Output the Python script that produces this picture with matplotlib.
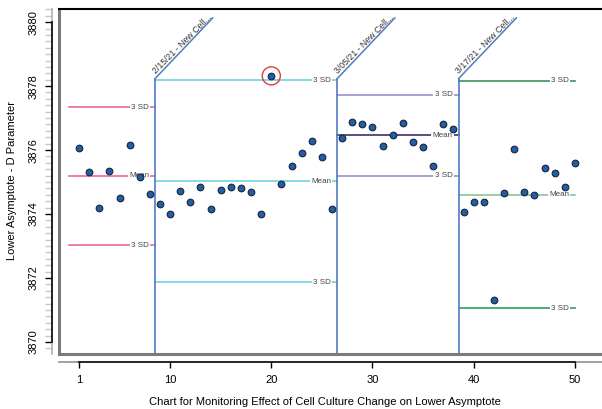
import matplotlib
matplotlib.use("Agg")
import matplotlib.pyplot as plt
import matplotlib.transforms as mtransforms
import numpy as np

plt.rcParams['font.family'] = ['Liberation Sans', 'DejaVu Sans']

# ---------------- data ----------------
obs = list(range(1, 51))
values = [3876.07, 3875.33, 3874.20, 3875.36, 3874.50, 3876.16, 3875.16, 3874.62,
          3874.31, 3874.01, 3874.72, 3874.38, 3874.85, 3874.16, 3874.76, 3874.85,
          3874.81, 3874.70, 3874.01, 3878.32, 3874.94, 3875.49, 3875.91, 3876.29,
          3875.79, 3874.17, 3876.38, 3876.875, 3876.83, 3876.72, 3876.125, 3876.48,
          3876.86, 3876.24, 3876.09, 3875.50, 3876.81, 3876.67, 3874.05, 3874.37,
          3874.37, 3871.32, 3874.67, 3876.02, 3874.68, 3874.59, 3875.45, 3875.28,
          3874.84, 3875.59]
outliers = [20]

seg_start = [0, 8.5, 26.5, 38.5]
seg_end = [8.5, 26.5, 38.5, 50]
seg_ucl = [3877.34, 3878.19, 3877.73, 3878.16]
seg_mean = [3875.19, 3875.02, 3876.46, 3874.60]
seg_lcl = [3873.03, 3871.87, 3875.20, 3871.06]
ucl_colors = ['#ee66a6', '#6fd3e0', '#9d8ecb', '#3a9460']
mean_colors = ['#ee66a6', '#6fd3e0', '#3f2d70', '#86c59a']
lcl_colors = ['#ee66a6', '#6fd3e0', '#9d8ecb', '#2ea05a']

phase_x = [8.5, 26.5, 38.5]
phase_labels = ['2/15/21 - New Cell...', '3/05/21 - New Cell...', '3/17/21 - New Cell...']
phase_top = 3878.23

x_ticks = [1, 10, 20, 30, 40, 50]
y_ticks = [3870, 3872, 3874, 3876, 3878, 3880]

# ---------------- figure ----------------
W, H = 602, 409
fig = plt.figure(figsize=(W / 100, H / 100), dpi=100)
L, R, T, B = 59, 602, 9, 354
ax = fig.add_axes([L / W, 1 - B / H, (R - L) / W, (B - T) / H])
ax.set_xlim(-0.98, 52.68)
ax.set_ylim(3869.625, 3880.41)

# frame
ax.plot([0, 0], [0, 1], transform=ax.transAxes, color='#7a7a7a', lw=2.2, clip_on=False, zorder=5)
ax.plot([0, 1], [0, 0], transform=ax.transAxes, color='#7a7a7a', lw=2.2, clip_on=False, zorder=5)
ax.plot([0, 1], [1, 1], transform=ax.transAxes, color='black', lw=1.5, clip_on=False, zorder=5)

# axis spines offset
for s in ['top', 'right']:
    ax.spines[s].set_visible(False)
ax.spines['left'].set_position(('outward', 5.0))
ax.spines['bottom'].set_position(('outward', 5.8))
ax.spines['left'].set_bounds(y_ticks[0], y_ticks[-1])
ax.spines['bottom'].set_bounds(x_ticks[0], x_ticks[-1])
ax.spines['left'].set_linewidth(1.2)
ax.spines['bottom'].set_linewidth(1.2)

ylo, yhi = ax.get_ylim()
xlo, xhi = ax.get_xlim()
ytr = mtransforms.offset_copy(ax.get_yaxis_transform(), fig=fig, x=-7, y=0, units='dots')
xtr = mtransforms.offset_copy(ax.get_xaxis_transform(), fig=fig, x=0, y=-8, units='dots')
for a, b in [(ylo, y_ticks[0]), (y_ticks[-1], yhi)]:
    ax.plot([0, 0], [a, b], transform=ytr, color='#b0b0b0', lw=1.2, clip_on=False)
for a, b in [(xlo, x_ticks[0]), (x_ticks[-1], xhi)]:
    ax.plot([a, b], [0, 0], transform=xtr, color='#909090', lw=1.2, clip_on=False)

ax.set_xticks(x_ticks)
ax.set_yticks(y_ticks)
ax.set_yticks(np.arange(3869.8, 3880.41, 0.2), minor=True)
ax.tick_params(axis='y', which='major', length=5, width=1, labelsize=8, pad=5, labelrotation=90)
ax.tick_params(axis='y', which='minor', length=5, width=1, color='#c8c8c8')
ax.tick_params(axis='x', which='major', length=4.5, width=1, labelsize=8, pad=5)
for lab in ax.get_yticklabels():
    lab.set_va('center')

# control limit lines
for i in range(len(seg_start)):
    xs = [seg_start[i], seg_end[i]]
    for val, col, txt in [(seg_ucl[i], ucl_colors[i], '3 SD'),
                          (seg_mean[i], mean_colors[i], 'Mean'),
                          (seg_lcl[i], lcl_colors[i], '3 SD')]:
        ax.plot(xs, [val, val], color=col, lw=1.2, zorder=2)
        ax.annotate(txt, xy=(seg_end[i], val), xytext=(-6, 0), textcoords='offset pixels',
                    ha='right', va='center', fontsize=5.8, color='#444444', zorder=3,
                    bbox=dict(boxstyle='square,pad=0.15', fc='white', ec='none'))

# phase boundaries
for xb, lbl in zip(phase_x, phase_labels):
    ax.plot([xb, xb], [ylo, phase_top], color='#4f7cc4', lw=1.2, zorder=4)
    ax.annotate('', xy=(xb, phase_top), xytext=(58, 61), textcoords='offset pixels',
                arrowprops=dict(arrowstyle='-', color='#4f7cc4', lw=1.1, shrinkA=0, shrinkB=0),
                annotation_clip=False)
    ax.annotate(lbl, xy=(xb, phase_top), xytext=(2, 3), textcoords='offset pixels',
                rotation=45, rotation_mode='anchor', ha='left', va='bottom',
                fontsize=6.3, color='#333333', annotation_clip=False)

# points
ax.plot(obs, values, linestyle='none', marker='o', markersize=4.8,
        markerfacecolor='#1f5ea8', markeredgecolor='#1a2436', markeredgewidth=0.8, zorder=6)
ox = [obs[i - 1] for i in outliers]
oy = [values[i - 1] for i in outliers]
ax.scatter(ox, oy, s=170, facecolors='none', edgecolors='#e23a3a', linewidths=1.0, zorder=7)

fig.text(12 / W, 1 - 181 / H, 'Lower Asymptote - D Parameter', rotation=90,
         ha='center', va='center', fontsize=8)
fig.text(325 / W, 1 - 402 / H, 'Chart for Monitoring Effect of Cell Culture Change on Lower Asymptote',
         ha='center', va='center', fontsize=8)

fig.savefig('out.png', dpi=100)
